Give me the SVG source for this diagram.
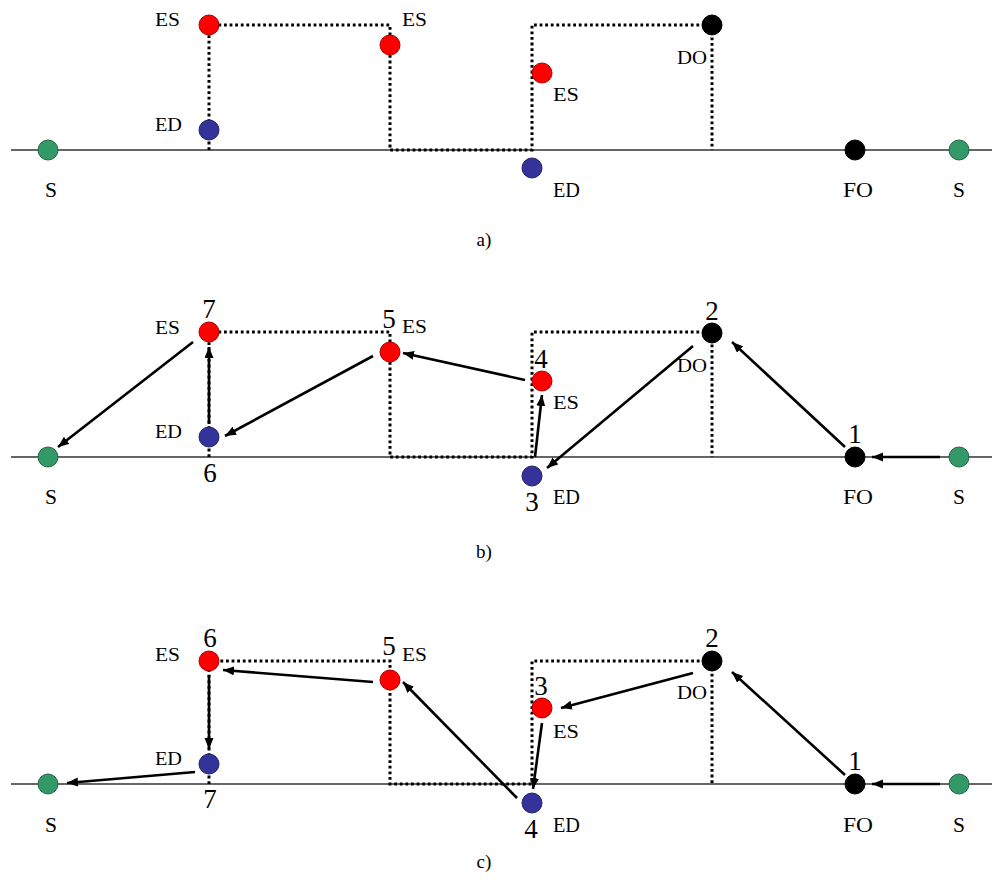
<svg xmlns="http://www.w3.org/2000/svg" width="992" height="891" viewBox="0 0 992 891">
<style>
text{font-family:"Liberation Serif","Times New Roman",serif;fill:#000}
.lb{font-size:19px}
.lbb{font-size:21px}
.num{font-size:27px;text-anchor:middle}
.cap{font-size:19px;text-anchor:middle}
.base{stroke:#333;stroke-width:1.5;fill:none}
.dot{stroke:#000;stroke-width:3;stroke-dasharray:2.8 2.8;fill:none}
.arr{stroke:#000;stroke-width:2.6;fill:none;marker-end:url(#ah)}
.r{fill:#ff0000;stroke:#b00000;stroke-width:1}
.b{fill:#333399;stroke:#22226a;stroke-width:1}
.g{fill:#339966;stroke:#22664a;stroke-width:1}
.k{fill:#000;stroke:#000;stroke-width:1}
</style>
<defs>
<marker id="ah" markerUnits="userSpaceOnUse" markerWidth="12" markerHeight="10" refX="11" refY="4.5" orient="auto">
<path d="M0,0 L11,4.5 L0,9 z" fill="#000"/>
</marker>
</defs>

<!-- ===== Panel a ===== -->
<g id="panel-a-lines">
<line class="base" x1="11" y1="150" x2="992" y2="150"/>
<polyline class="dot" points="209,150 209,25 390,25 390,150 532,150 532,25 712,25 712,150"/>
</g>
<g id="a-S-left"><circle class="g" cx="48" cy="150" r="10"/><text class="lbb" x="45" y="197" textLength="12" lengthAdjust="spacingAndGlyphs">S</text></g>
<g id="a-ES1"><circle class="r" cx="209" cy="25" r="10"/><text class="lb" x="155" y="26" textLength="25" lengthAdjust="spacingAndGlyphs">ES</text></g>
<g id="a-ED1"><circle class="b" cx="209" cy="130" r="10"/><text class="lb" x="155" y="131" textLength="27" lengthAdjust="spacingAndGlyphs">ED</text></g>
<g id="a-ES2"><circle class="r" cx="390" cy="45" r="10"/><text class="lb" x="402" y="26" textLength="25" lengthAdjust="spacingAndGlyphs">ES</text></g>
<g id="a-ES3"><circle class="r" cx="542" cy="73" r="10"/><text class="lb" x="553" y="101" textLength="26" lengthAdjust="spacingAndGlyphs">ES</text></g>
<g id="a-ED2"><circle class="b" cx="532" cy="168" r="10"/><text class="lbb" x="553" y="197" textLength="27" lengthAdjust="spacingAndGlyphs">ED</text></g>
<g id="a-DO"><circle class="k" cx="712" cy="25" r="10"/><text class="lb" x="677" y="64" textLength="30" lengthAdjust="spacingAndGlyphs">DO</text></g>
<g id="a-FO"><circle class="k" cx="855" cy="150" r="10"/><text class="lbb" x="843" y="197" textLength="30" lengthAdjust="spacingAndGlyphs">FO</text></g>
<g id="a-S-right"><circle class="g" cx="959" cy="150" r="10"/><text class="lbb" x="953" y="197" textLength="12" lengthAdjust="spacingAndGlyphs">S</text></g>
<text class="cap" x="484" y="246">a)</text>

<!-- ===== Panel b ===== -->
<g id="panel-b-lines">
<line class="base" x1="11" y1="457" x2="992" y2="457"/>
<polyline class="dot" points="209,457 209,332 390,332 390,457 532,457 532,332 712,332 712,457"/>
</g>
<g id="b-S-left"><circle class="g" cx="48" cy="457" r="10"/><text class="lbb" x="45" y="504" textLength="12" lengthAdjust="spacingAndGlyphs">S</text></g>
<g id="b-ES7"><circle class="r" cx="209" cy="332" r="10"/><text class="lb" x="155" y="334" textLength="25" lengthAdjust="spacingAndGlyphs">ES</text><text class="num" x="209" y="318">7</text></g>
<g id="b-ED6"><circle class="b" cx="209" cy="437" r="10"/><text class="lb" x="155" y="438" textLength="27" lengthAdjust="spacingAndGlyphs">ED</text><text class="num" x="210" y="482">6</text></g>
<g id="b-ES5"><circle class="r" cx="390" cy="352" r="10"/><text class="lb" x="402" y="333" textLength="25" lengthAdjust="spacingAndGlyphs">ES</text><text class="num" x="389" y="328">5</text></g>
<g id="b-ES4"><circle class="r" cx="542" cy="381" r="10"/><text class="lb" x="553" y="409" textLength="26" lengthAdjust="spacingAndGlyphs">ES</text><text class="num" x="541" y="368">4</text></g>
<g id="b-ED3"><circle class="b" cx="532" cy="476" r="10"/><text class="lbb" x="553" y="504" textLength="27" lengthAdjust="spacingAndGlyphs">ED</text><text class="num" x="532" y="511">3</text></g>
<g id="b-DO2"><circle class="k" cx="712" cy="333" r="10"/><text class="lb" x="677" y="372" textLength="30" lengthAdjust="spacingAndGlyphs">DO</text><text class="num" x="712" y="320">2</text></g>
<g id="b-FO1"><circle class="k" cx="855" cy="457" r="10"/><text class="lbb" x="843" y="504" textLength="30" lengthAdjust="spacingAndGlyphs">FO</text><text class="num" x="855" y="443">1</text></g>
<g id="b-S-right"><circle class="g" cx="959" cy="457" r="10"/><text class="lbb" x="953" y="504" textLength="12" lengthAdjust="spacingAndGlyphs">S</text></g>
<g id="b-connectors">
<line class="arr" x1="940" y1="457" x2="872" y2="457"/>
<line class="arr" x1="845" y1="447" x2="732" y2="342"/>
<line class="arr" x1="693" y1="346" x2="547" y2="468"/>
<line class="arr" x1="535" y1="457" x2="542" y2="395"/>
<line class="arr" x1="525" y1="380" x2="403" y2="353"/>
<line class="arr" x1="373" y1="356" x2="225" y2="436"/>
<line class="arr" x1="209" y1="424" x2="209" y2="347"/>
<line class="arr" x1="193" y1="342" x2="58" y2="447"/>
</g>
<text class="cap" x="484" y="558">b)</text>

<!-- ===== Panel c ===== -->
<g id="panel-c-lines">
<line class="base" x1="11" y1="784" x2="992" y2="784"/>
<polyline class="dot" points="209,784 209,661 390,661 390,784 532,784 532,661 712,661 712,784"/>
</g>
<g id="c-S-left"><circle class="g" cx="48" cy="784" r="10"/><text class="lbb" x="45" y="832" textLength="12" lengthAdjust="spacingAndGlyphs">S</text></g>
<g id="c-ES6"><circle class="r" cx="209" cy="661" r="10"/><text class="lb" x="155" y="661" textLength="25" lengthAdjust="spacingAndGlyphs">ES</text><text class="num" x="210" y="647">6</text></g>
<g id="c-ED7"><circle class="b" cx="209" cy="764" r="10"/><text class="lb" x="155" y="765" textLength="27" lengthAdjust="spacingAndGlyphs">ED</text><text class="num" x="210" y="808">7</text></g>
<g id="c-ES5"><circle class="r" cx="390" cy="680" r="10"/><text class="lb" x="402" y="661" textLength="25" lengthAdjust="spacingAndGlyphs">ES</text><text class="num" x="389" y="655">5</text></g>
<g id="c-ES3"><circle class="r" cx="542" cy="708" r="10"/><text class="lb" x="553" y="738" textLength="26" lengthAdjust="spacingAndGlyphs">ES</text><text class="num" x="541" y="695">3</text></g>
<g id="c-ED4"><circle class="b" cx="532" cy="803" r="10"/><text class="lbb" x="553" y="832" textLength="27" lengthAdjust="spacingAndGlyphs">ED</text><text class="num" x="531" y="838">4</text></g>
<g id="c-DO2"><circle class="k" cx="712" cy="661" r="10"/><text class="lb" x="677" y="699" textLength="30" lengthAdjust="spacingAndGlyphs">DO</text><text class="num" x="712" y="647">2</text></g>
<g id="c-FO1"><circle class="k" cx="855" cy="784" r="10"/><text class="lbb" x="843" y="832" textLength="30" lengthAdjust="spacingAndGlyphs">FO</text><text class="num" x="855" y="770">1</text></g>
<g id="c-S-right"><circle class="g" cx="959" cy="784" r="10"/><text class="lbb" x="953" y="832" textLength="12" lengthAdjust="spacingAndGlyphs">S</text></g>
<g id="c-connectors">
<line class="arr" x1="940" y1="784" x2="872" y2="784"/>
<line class="arr" x1="845" y1="775" x2="732" y2="672"/>
<line class="arr" x1="693" y1="673" x2="561" y2="708"/>
<line class="arr" x1="542" y1="723" x2="533" y2="789"/>
<line class="arr" x1="517" y1="798" x2="403" y2="682"/>
<line class="arr" x1="373" y1="682" x2="223" y2="670"/>
<line class="arr" x1="209" y1="675" x2="209" y2="749"/>
<line class="arr" x1="195" y1="772" x2="67" y2="783"/>
</g>
<text class="cap" x="484" y="868">c)</text>
</svg>
